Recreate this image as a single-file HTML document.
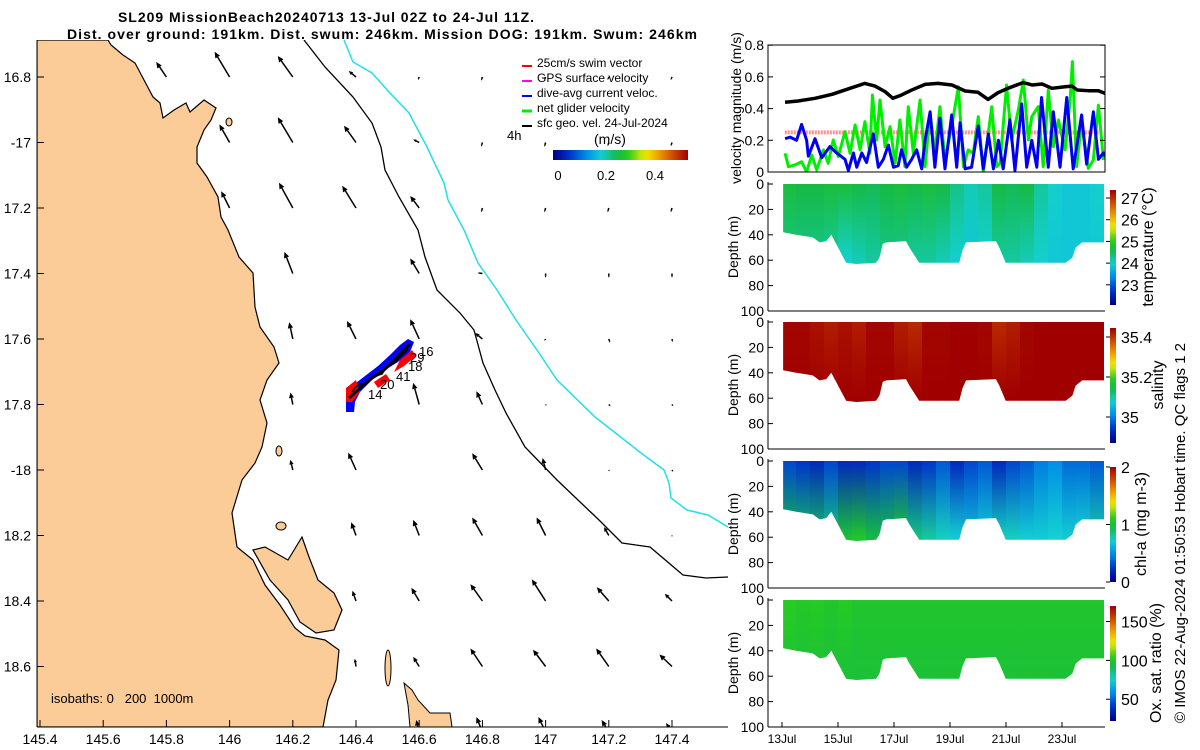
<!DOCTYPE html>
<html><head><meta charset="utf-8"><style>
html,body{margin:0;padding:0;background:#fff;}
svg{display:block;font-family:"Liberation Sans","DejaVu Sans",sans-serif;}
</style></head><body>
<svg id="s" width="1200" height="750" viewBox="0 0 1200 750" xmlns="http://www.w3.org/2000/svg">
<defs>
<clipPath id="mapclip"><rect x="37" y="40" width="691" height="687"/></clipPath>
</defs>
<text x="326" y="22" text-anchor="middle" font-weight="bold" font-size="14" textLength="416">SL209 MissionBeach20240713 13-Jul 02Z to 24-Jul 11Z.</text>
<text x="382" y="39" text-anchor="middle" font-weight="bold" font-size="14" textLength="630">Dist. over ground: 191km. Dist. swum: 246km. Mission DOG: 191km. Swum: 246km</text>
<g id="map" clip-path="url(#mapclip)">
<path fill="#fbcb98" stroke="#000" stroke-width="1.2" d="M37,40 L108,40 111,45 123,55 135,63 144,80 153,97 160,103 163,118 174,110 186,103 190,112 204,100 216,108 211,120 204,130 197,147 197,163 207,177 218,197 221,217 228,230 239,257 253,273 255,307 260,327 274,347 279,363 267,380 260,400 267,423 262,447 255,463 242,480 232,513 237,547 253,560 265,585 280,605 295,628 305,636 325,640 339,650 336,680 328,700 323,727 37,727 Z"/>
<path fill="#fbcb98" stroke="#000" stroke-width="1.2" d="M253,550 L265,547 288,560 302,537 309,557 318,580 334,593 342,610 334,630 316,633 300,622 288,600 270,580 Z"/>
<ellipse cx="388" cy="668" rx="3" ry="18" fill="#fbcb98" stroke="#000"/>
<path d="M404,683 L412,690 418,700 430,713 450,713 452,727 410,727 408,705 Z" fill="#fbcb98" stroke="#000"/>
<ellipse cx="229" cy="122" rx="3" ry="4" fill="#fbcb98" stroke="#000"/>
<ellipse cx="281" cy="526" rx="5" ry="4" fill="#fbcb98" stroke="#000"/>
<ellipse cx="279" cy="451" rx="3" ry="5" fill="#fbcb98" stroke="#000"/>
<polyline fill="none" stroke="#000" stroke-width="1.3" points="304,40 325,67 353,97 372,123 381,147 385,170 399,197 418,230 425,257 437,290 460,313 474,330 483,363 495,390 506,413 525,447 557,480 599,520 622,543 650,547 683,575 706,578 728,577"/>
<polyline fill="none" stroke="#22e0e8" stroke-width="1.5" points="344,40 353,62 372,73 390,93 409,113 427,147 444,183 448,200 464,230 478,263 497,290 516,320 539,353 557,380 595,417 641,453 664,470 669,483 671,498 687,510 708,515 728,527"/>
<g id="arrows"></g>
<g>
<path fill="#0000ff" d="M346,398 L352,386 365,376 378,366 390,355 400,345 408,339 414,342 410,352 398,362 385,370 372,380 360,392 355,402 354,412 346,412 Z"/>
<path fill="#ff0000" d="M346,388 L356,380 360,392 352,402 346,402 Z M400,360 L412,350 416,356 404,366 394,372 Z M374,382 L386,374 390,380 378,388 Z"/>
<path fill="none" stroke="#000" stroke-width="3" d="M349,398 L360,388 372,378 384,370 395,360 404,350 410,344"/>
<path fill="none" stroke="#000" stroke-width="1.5" d="M352,392 q6,-10 14,-8 q8,-8 16,-10 q6,-10 14,-12 q6,-8 12,-12"/>
</g>
<g font-size="13">
<text x="419" y="356">16</text><text x="410" y="362">29</text><text x="408" y="371">18</text>
<text x="396" y="381">41</text><text x="380" y="389">20</text><text x="368" y="399">14</text>
</g>
<text x="51" y="703" font-size="13" xml:space="preserve" style="white-space:pre">isobaths: 0   200  1000m</text>
</g>
<line x1="37" y1="40" x2="37" y2="727" stroke="#000"/>
<line x1="37" y1="727" x2="728" y2="727" stroke="#000"/>
<g id="mapticks" font-size="14"></g>
<g font-size="12">
<g><line x1="522" y1="66" x2="532" y2="66" stroke="#ff0000" stroke-width="2"/><text x="537" y="67">25cm/s swim vector</text></g>
<g><line x1="522" y1="81" x2="532" y2="81" stroke="#ff00ff" stroke-width="2"/><text x="537" y="82">GPS surface velocity</text></g>
<g><line x1="522" y1="96" x2="532" y2="96" stroke="#0000ff" stroke-width="2"/><text x="537" y="97">dive-avg current veloc.</text></g>
<g><line x1="522" y1="111" x2="532" y2="111" stroke="#00ee00" stroke-width="3"/><text x="537" y="112">net glider velocity</text></g>
<g><line x1="522" y1="126" x2="532" y2="126" stroke="#000" stroke-width="2"/><text x="537" y="127">sfc geo. vel. 24-Jul-2024</text></g>
<text x="507" y="140" font-size="13">4h</text>
<text x="594" y="144" font-size="14">(m/s)</text>
<rect x="553" y="150" width="135" height="10" fill="url(#cmH)"/>
<text x="558" y="180" font-size="13" text-anchor="middle">0</text>
<text x="606" y="180" font-size="13" text-anchor="middle">0.2</text>
<text x="655" y="180" font-size="13" text-anchor="middle">0.4</text>
</g>
<g id="right"></g>
</svg>
<script>
// ---------- data ----------
const lonTicks=[145.4,145.6,145.8,146,146.2,146.4,146.6,146.8,147,147.2,147.4];
const latTicks=[-16.8,-17,-17.2,-17.4,-17.6,-17.8,-18,-18.2,-18.4,-18.6];
const latTickLabels=["16.8","-17","17.2","17.4","17.6","17.8","-18","18.2","18.4","18.6"];
const gridLons=[145.8,146.0,146.2,146.4,146.6,146.8,147.0,147.2,147.4];
const gridLats=[-16.8,-17.0,-17.2,-17.4,-17.6,-17.8,-18.0,-18.2,-18.4,-18.6,-18.8];
const arrowU=[
[-0.17,-0.25,-0.25,-0.12,-0.02,-0.02,-0.02,-0.02,-0.02],
[null,-0.17,-0.25,-0.2,-0.1,-0.02,-0.02,-0.02,-0.02],
[null,-0.14,-0.23,-0.23,-0.15,-0.02,-0.02,-0.02,-0.02],
[null,null,-0.14,null,-0.15,-0.08,0.0,0.0,0.0],
[null,null,-0.06,-0.15,-0.15,-0.12,-0.02,0.02,0.01],
[null,null,-0.04,null,-0.1,-0.1,0.01,0.03,0.02],
[null,null,-0.04,-0.13,null,-0.17,-0.05,0.01,0.02],
[null,null,null,-0.08,-0.1,-0.17,-0.15,-0.08,0.0],
[null,null,null,-0.06,-0.13,-0.2,-0.23,-0.2,-0.12],
[null,null,null,-0.02,-0.1,-0.2,-0.21,-0.21,-0.21],
[null,null,null,null,-0.05,-0.1,-0.12,-0.12,-0.1]];
const arrowV=[
[0.25,0.42,0.35,0.1,-0.05,-0.06,-0.05,-0.05,-0.05],
[null,0.3,0.42,0.28,0.05,-0.07,-0.07,-0.06,-0.06],
[null,0.28,0.42,0.37,0.2,-0.07,-0.07,-0.07,-0.07],
[null,null,0.36,null,0.25,0.01,-0.07,-0.07,-0.07],
[null,null,0.28,0.3,0.33,0.1,-0.03,-0.06,-0.05],
[null,null,0.2,null,0.36,0.22,-0.02,-0.03,-0.03],
[null,null,0.17,0.29,null,0.28,0.2,-0.02,-0.03],
[null,null,null,0.22,0.26,0.3,0.3,0.14,-0.02],
[null,null,null,0.17,0.22,0.28,0.36,0.23,0.12],
[null,null,null,0.13,0.16,0.3,0.28,0.3,0.2],
[null,null,null,null,0.2,0.25,0.25,0.2,0.15]];

const blackT=[13.11,13.57,14.18,14.79,15.36,15.96,16.32,16.68,16.96,17.27,17.63,18.11,18.57,19.07,19.54,20.0,20.36,20.71,21.07,21.61,21.93,22.29,22.64,23.11,23.36,23.54,23.93,24.29,24.54];
const blackV=[0.44,0.448,0.465,0.49,0.524,0.559,0.542,0.507,0.465,0.486,0.517,0.553,0.559,0.549,0.511,0.503,0.458,0.5,0.528,0.564,0.549,0.555,0.528,0.538,0.542,0.517,0.513,0.513,0.496];
const blueT=[13.11,13.29,13.52,13.70,13.88,13.94,14.18,14.42,14.71,14.95,15.25,15.37,15.55,15.67,15.85,16.02,16.26,16.44,16.62,16.80,16.98,17.15,17.27,17.45,17.63,17.81,17.99,18.11,18.29,18.46,18.64,18.82,19.06,19.24,19.36,19.54,19.77,20.01,20.19,20.37,20.55,20.73,20.90,21.14,21.32,21.56,21.74,21.92,22.10,22.27,22.51,22.69,22.93,23.17,23.40,23.70,23.88,24.12,24.30,24.48,24.54];
const blueV=[0.21,0.22,0.20,0.30,0.20,0.10,0.21,0.09,0.16,0.12,0.08,0.01,0.12,0.03,0.12,0.06,0.24,0.03,0.08,0.17,0.03,0.04,0.14,0.03,0.08,0.14,0.02,0.20,0.38,0.03,0.34,0.02,0.36,0.03,0.31,0.02,0.03,0.29,0.02,0.24,0.02,0.20,0.02,0.33,0.01,0.43,0.03,0.20,0.03,0.47,0.03,0.38,0.03,0.47,0.02,0.36,0.05,0.38,0.08,0.12,0.10];
const greenT=[13.11,13.23,13.46,13.70,13.88,14.06,14.24,14.48,14.65,14.83,15.01,15.25,15.43,15.61,15.79,15.96,16.14,16.23,16.38,16.50,16.68,16.86,17.04,17.21,17.39,17.51,17.69,17.93,18.11,18.29,18.46,18.64,18.82,19.06,19.30,19.48,19.65,19.83,20.01,20.19,20.49,20.67,20.79,21.02,21.20,21.44,21.62,21.80,21.92,22.15,22.33,22.51,22.69,22.87,23.11,23.29,23.37,23.52,23.70,23.94,24.12,24.30,24.48];
const greenV=[0.118,0.034,0.044,0.065,0.0,0.107,0.013,0.139,0.055,0.202,0.097,0.254,0.118,0.297,0.139,0.318,0.118,0.486,0.202,0.454,0.16,0.286,0.055,0.328,0.034,0.412,0.118,0.454,0.034,0.37,0.118,0.412,0.076,0.286,0.538,0.034,0.139,0.118,0.349,0.0,0.412,0.034,0.055,0.549,0.202,0.391,0.58,0.202,0.349,0.412,0.034,0.517,0.16,0.328,0.139,0.454,0.696,0.034,0.307,0.023,0.076,0.422,0.076];
const swimT=[13.1,24.3];
const swimV=[0.25,0.25];

const dateTicks=[13,15,17,19,21,23];
const dateLabels=["13Jul","15Jul","17Jul","19Jul","21Jul","23Jul"];
const depthTicks=[0,20,40,60,80,100];
const velTicks=[0,0.2,0.4,0.6,0.8];

const boundT=[13.04,13.51,14.1,14.34,14.58,14.76,15.05,15.29,15.65,16.36,16.48,16.6,16.72,17.43,17.55,17.9,19.33,19.45,19.57,20.64,20.76,20.99,23.13,23.37,23.49,23.72,24.5];
const boundD=[38,40,42,46,45,40,52,62,63,62,58,47,46,45,50,62,62,52,46,45,50,62,62,58,50,46,46];
const colT=[13.0,13.5,14.0,14.5,15.0,15.5,16.0,16.5,17.0,17.5,18.0,18.5,19.0,19.5,20.0,20.5,21.0,21.5,22.0,22.5,23.0,23.5,24.0];
const tempSurf=[24.7,24.6,24.6,24.7,24.7,24.6,24.5,24.6,24.7,24.6,24.7,24.6,24.3,24.1,24.2,24.6,24.5,24.6,24.2,24.0,23.9,23.9,24.0];
const tempDeep=[24.3,24.3,24.3,24.2,24.0,24.1,24.2,24.3,24.3,24.2,24.2,24.1,24.0,23.9,24.0,24.2,24.2,24.1,24.0,23.9,23.9,23.9,23.9];
const salSurf=[35.44,35.44,35.43,35.42,35.43,35.42,35.44,35.44,35.42,35.41,35.44,35.44,35.45,35.45,35.44,35.41,35.42,35.44,35.45,35.45,35.45,35.45,35.45];
const salDeep=[35.45,35.45,35.45,35.45,35.45,35.45,35.45,35.45,35.45,35.45,35.45,35.45,35.45,35.45,35.45,35.45,35.45,35.45,35.45,35.45,35.45,35.45,35.45];
const chlSurf=[0.3,0.25,0.2,0.3,0.2,0.2,0.25,0.3,0.3,0.2,0.25,0.35,0.2,0.3,0.35,0.2,0.3,0.35,0.45,0.5,0.4,0.4,0.35];
const chlDeep=[0.95,0.9,0.9,0.85,1.0,1.05,0.95,0.95,1.05,0.85,0.8,0.75,0.7,0.65,0.7,0.75,0.75,0.7,0.7,0.72,0.7,0.72,0.78];
const oxSurf=[104,102,103,100,103,100,100,100,100,100,100,100,100,100,100,100,100,100,100,100,100,100,100];
const oxDeep=[97,97,97,97,97,97,97,97,97,97,97,97,97,97,97,97,97,97,97,97,97,97,97];

// ---------- helpers ----------
const NS="http://www.w3.org/2000/svg";
function mk(tag,attrs,parent){const e=document.createElementNS(NS,tag);for(const k in attrs)e.setAttribute(k,attrs[k]);parent.appendChild(e);return e;}
const X=lon=>40+(lon-145.4)*316;
const Y=lat=>77+(-16.8-lat)*327.5;
const PX=60;
const CM=[[0,[0,0,127]],[0.12,[0,48,200]],[0.25,[0,144,230]],[0.36,[20,208,210]],[0.47,[20,184,72]],[0.56,[40,205,30]],[0.62,[150,215,20]],[0.68,[240,240,0]],[0.78,[240,160,0]],[0.88,[208,80,0]],[1,[160,0,0]]];
function cmap(f){f=Math.max(0,Math.min(1,f));for(let i=1;i<CM.length;i++){if(f<=CM[i][0]){const a=CM[i-1],b=CM[i],t=(f-a[0])/(b[0]-a[0]);const c=a[1].map((v,j)=>Math.round(v+(b[1][j]-v)*t));return `rgb(${c})`;}}return 'rgb(160,0,0)';}
const svg=document.getElementById('s');
const defs=svg.querySelector('defs');
const gh=mk('linearGradient',{id:'cmH',x1:'0',x2:'1',y1:'0',y2:'0'},defs);
const gv=mk('linearGradient',{id:'cmV',x1:'0',x2:'0',y1:'1',y2:'0'},defs);
for(let i=0;i<=20;i++){mk('stop',{offset:i/20,'stop-color':cmap(i/20)},gh);mk('stop',{offset:i/20,'stop-color':cmap(i/20)},gv);}

// ---------- map arrows ----------
const ag=document.getElementById('arrows');
for(let r=0;r<gridLats.length;r++)for(let c=0;c<gridLons.length;c++){
 const u=arrowU[r][c],v=arrowV[r][c]; if(u===null||v===null)continue;
 const x0=X(gridLons[c]),y0=Y(gridLats[r]),dx=u*PX,dy=-v*PX,L=Math.hypot(dx,dy); if(L<0.5)continue;
 const g=mk('g',{},ag);
 
 
 const ux=dx/L,uy=dy/L,h=Math.min(6,L*0.45),w=h*0.45;
 const x1=x0+dx,y1=y0+dy,bx=x1-ux*h,by=y1-uy*h;
 mk('line',{x1:x0,y1:y0,x2:bx,y2:by,stroke:'#000','stroke-width':1.5},g);
 mk('polygon',{points:`${x1},${y1} ${bx-uy*w},${by+ux*w} ${bx+uy*w},${by-ux*w}`,fill:'#000'},g);
}
const mt=document.getElementById('mapticks');
lonTicks.forEach(l=>{const x=X(l);
 const t=mk('line',{x1:x,y1:727,x2:x,y2:720,stroke:'#000'},mt);
 
 const tx=mk('text',{x:x,y:744,'text-anchor':'middle'},mt);tx.textContent=String(l);
 });
latTicks.forEach((l,i)=>{const y=Y(l);
 mk('line',{x1:37,y1:y,x2:44,y2:y,stroke:'#000'},mt);
 const tx=mk('text',{x:31,y:y+5,'text-anchor':'end'},mt);tx.textContent=latTickLabels[i];
 });

// ---------- right panels ----------
const R=document.getElementById('right');
const L0=768,R0=1105;
const xT=d=>782+(d-13)*28;
const vg=mk('g',{},R);


const yV=v=>172-v*158.5;
const vcp=mk('clipPath',{id:'vclip'},defs);
mk('rect',{x:L0,y:45,width:R0-L0,height:127},vcp);
function line(ts,vs,col,w,name,dash){const p=mk('polyline',{points:ts.map((t,i)=>xT(t)+','+yV(vs[i])).join(' '),fill:'none',stroke:col,'stroke-width':w,'stroke-linejoin':'round','clip-path':'url(#vclip)'},vg);
 if(dash)p.setAttribute('stroke-dasharray',dash);
 }
line(swimT,swimV,'#ff9090',4,'swim-speed-line','2,1');
line(greenT,greenV,'#00ee00',3,'net-glider-velocity-line');
line(blueT,blueV,'#0000ee',3,'dive-avg-current-line');
line(blackT,blackV,'#000',3.5,'sfc-geo-velocity-line');
mk('rect',{x:L0,y:45,width:R0-L0,height:127,fill:'none',stroke:'#000'},vg);
velTicks.forEach(v=>{const y=yV(v);mk('line',{x1:L0,y1:y,x2:L0+5,y2:y,stroke:'#000'},vg);mk('line',{x1:R0,y1:y,x2:R0-5,y2:y,stroke:'#000'},vg);
 const t=mk('text',{x:L0-4,y:y+5,'text-anchor':'end','font-size':14},vg);t.textContent=v===0?'0':v.toFixed(1);
 });
const vl=mk('text',{x:0,y:0,transform:'translate(741,108) rotate(-90)','text-anchor':'middle','font-size':14},vg);vl.textContent='velocity magnitude (m/s)';


const panels=[
 {top:184,vmin:22.07,vmax:27.37,surf:tempSurf,deep:tempDeep,name:'temperature',ticks:[23,24,25,26,27],lab:['23','24','25','26','27'],title:'temperature (°C)',tx:1153},
 {top:322,vmin:34.87,vmax:35.445,surf:salSurf,deep:salDeep,name:'salinity',ticks:[35,35.2,35.4],lab:['35','35.2','35.4'],title:'salinity',tx:1163},
 {top:461,vmin:0,vmax:2,surf:chlSurf,deep:chlDeep,name:'chlorophyll',ticks:[0,1,2],lab:['0','1','2'],title:'chl-a (mg m-3)',tx:1146},
 {top:600,vmin:22,vmax:170,surf:oxSurf,deep:oxDeep,name:'oxygen',ticks:[50,100,150],lab:['50','100','150'],title:'Ox. sat. ratio (%)',tx:1161}];
panels.forEach((P,pi)=>{
 const g=mk('g',{},R);
 
 
 const yD=d=>P.top+d*1.27;
 const cid='pc'+pi;
 const cp=mk('clipPath',{id:cid},defs);
 const pts=[xT(boundT[0])+','+yD(0)].concat(boundT.map((t,i)=>xT(t)+','+yD(boundD[i]))).concat([xT(boundT[boundT.length-1])+','+yD(0)]);
 mk('polygon',{points:pts.join(' ')},cp);
 const fg=mk('g',{'clip-path':`url(#${cid})`},g);
 colT.forEach((t,i)=>{
  const gid='g'+pi+'_'+i;
  const lg=mk('linearGradient',{id:gid,gradientUnits:'userSpaceOnUse',x1:0,x2:0,y1:yD(0),y2:yD(60)},defs);
  mk('stop',{offset:0,'stop-color':cmap((P.surf[i]-P.vmin)/(P.vmax-P.vmin))},lg);
  mk('stop',{offset:1,'stop-color':cmap((P.deep[i]-P.vmin)/(P.vmax-P.vmin))},lg);
  const r=mk('rect',{x:xT(t),y:yD(0),width:14.5,height:70*1.27,fill:`url(#${gid})`},fg);
  
  
 });
 mk('line',{x1:L0,y1:P.top-2,x2:L0,y2:yD(100),stroke:'#000'},g);
 mk('line',{x1:L0,y1:yD(100),x2:R0,y2:yD(100),stroke:'#000'},g);
 depthTicks.forEach(d=>{const y=yD(d);mk('line',{x1:L0,y1:y,x2:L0+5,y2:y,stroke:'#000'},g);
  const t=mk('text',{x:L0-4,y:y+5,'text-anchor':'end','font-size':14},g);t.textContent=String(d);
  });
 const dl=mk('text',{x:0,y:0,transform:`translate(738,${P.top+63}) rotate(-90)`,'text-anchor':'middle','font-size':14},g);dl.textContent='Depth (m)';
 
 const cb=mk('rect',{x:1110,y:P.top+6,width:6,height:115,fill:'url(#cmV)'},g);
 
 P.ticks.forEach((v,k)=>{const y=P.top+121-(v-P.vmin)/(P.vmax-P.vmin)*115;
  mk('line',{x1:1106,y1:y,x2:1110,y2:y,stroke:'#000'},g);
  const t=mk('text',{x:1121,y:y+6,'font-size':16},g);t.textContent=P.lab[k];
  });
 const ct=mk('text',{x:0,y:0,transform:`translate(${P.tx},${P.top+63}) rotate(-90)`,'text-anchor':'middle','font-size':16},g);ct.textContent=P.title;
 
});
dateTicks.forEach((d,i)=>{const x=xT(d);mk('line',{x1:x,y1:727,x2:x,y2:722,stroke:'#000'},R);
 const t=mk('text',{x:x,y:743,'text-anchor':'middle','font-size':12},R);t.textContent=dateLabels[i];
 });
const cr=mk('text',{x:0,y:0,transform:'translate(1185,533) rotate(-90)','text-anchor':'middle','font-size':15,textLength:380},R);
cr.textContent='© IMOS 22-Aug-2024 01:50:53 Hobart time. QC flags 1  2';

</script>
</body></html>
